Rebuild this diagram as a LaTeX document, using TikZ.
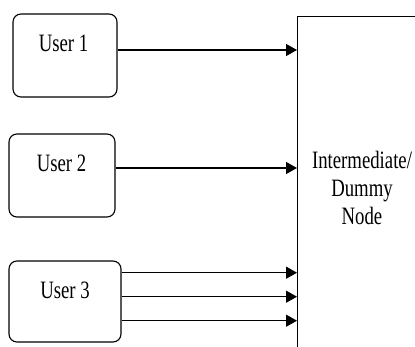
\documentclass[tikz,border=0pt]{standalone}
\usepackage{fontspec}
\usetikzlibrary{arrows.meta}
\newfontfamily\boxfont[FakeStretch=0.75]{Liberation Serif}

\begin{document}
\begin{tikzpicture}[x=1pt,y=-1pt]
	\tikzset{
		user/.style={draw, line width=1.1pt, rounded corners=8pt, inner sep=0pt},
		flow/.style={line width=1.4pt, -{Triangle[length=11pt,width=12pt]}},
		txt/.style={font=\boxfont\fontsize{25}{28}\selectfont, align=center, inner sep=0pt}
	}
	\clip (0,0) rectangle (415,347);

	% users on the left
	\node[user, minimum width=104pt, minimum height=83pt] (u1) at (65,55.5) {};
	\node[user, minimum width=106pt, minimum height=83pt] (u2) at (62,175.5) {};
	\node[user, minimum width=112pt, minimum height=81pt] (u3) at (65,301.5) {};
	\node[txt] (u1txt) at (63.5,43) {User 1};
	\node[txt] (u2txt) at (61.5,163) {User 2};
	\node[txt] (u3txt) at (65,290) {User 3};

	% the intermediate node, running off the page
	\node[draw, line width=1pt, minimum width=200pt, minimum height=400pt, anchor=north west] (mid) at (297,16) {};
	\node[txt] (midtxt) at (362,188) {Intermediate/\\Dummy\\Node};

	\draw[flow] ([yshift=5.5pt]u1.east) -- ([yshift=5.5pt]u1.east -| mid.west);
	\draw[flow] ([yshift=7.5pt]u2.east) -- ([yshift=7.5pt]u2.east -| mid.west);
	\draw[flow] ([yshift=28.8pt]u3.east) -- ([yshift=28.8pt]u3.east -| mid.west);
	\draw[flow] ([yshift=4.8pt]u3.east) -- ([yshift=4.8pt]u3.east -| mid.west);
	\draw[flow] ([yshift=-19.2pt]u3.east) -- ([yshift=-19.2pt]u3.east -| mid.west);
\end{tikzpicture}
\end{document}
